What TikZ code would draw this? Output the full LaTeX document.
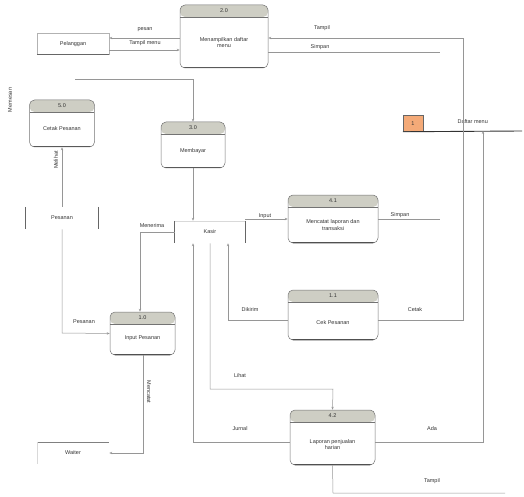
\documentclass[tikz,border=0pt]{standalone}
\usepackage{fontspec}
\setmainfont{Liberation Sans}
\usetikzlibrary{arrows.meta}
\definecolor{headfill}{RGB}{206,206,196}
\definecolor{linegray}{RGB}{150,150,150}
\definecolor{storeorange}{RGB}{244,170,120}
\begin{document}
\begin{tikzpicture}[x=1pt,y=-1pt,line width=0.5pt,
  every node/.style={font=\fontsize{5.5}{6.5}\selectfont,text=black!80},
  proc/.style={draw=black!55,rounded corners=5pt,inner sep=0pt,
    path picture={\fill[headfill] (path picture bounding box.north west)
      rectangle ([yshift=-12pt]path picture bounding box.north east);
      \draw[black!55] ([yshift=-12pt]path picture bounding box.north west)
      -- ([yshift=-12pt]path picture bounding box.north east);
      \draw[black!70,line width=1.4pt] (path picture bounding box.south west)
      -- (path picture bounding box.south east);}},
  ptext/.style={align=center},
  entity/.style={draw=black!30,minimum width=72pt,minimum height=21pt,inner sep=0pt},
  store/.style={minimum height=22pt,inner sep=0pt},
  flow/.style={draw=linegray,-{Stealth[length=3pt,width=2.4pt]}},
  link/.style={draw=linegray},
  lbl/.style={inner sep=1pt}]
 \useasboundingbox (0,0) rectangle (524,497);
 % processes
 \node[proc,minimum width=88pt,minimum height=63pt] (p2) at (224,36.5) {};
 \node at ([yshift=-6pt]p2.north) {2.0};
 \node[ptext] at ([yshift=-6pt]p2.center) {Menampilkan daftar\\menu};
 \node[proc,minimum width=65pt,minimum height=47pt] (p5) at (62,123.5) {};
 \node at ([yshift=-6pt]p5.north) {5.0};
 \node[ptext] at ([yshift=-5pt]p5.center) {Cetak Pesanan};
 \node[proc,minimum width=64pt,minimum height=46pt] (p3) at (193,145) {};
 \node at ([yshift=-6pt]p3.north) {3.0};
 \node[ptext] at ([yshift=-6pt]p3.center) {Membayar};
 \node[proc,minimum width=90pt,minimum height=48pt] (p41) at (333,219) {};
 \node at ([yshift=-6pt]p41.north) {4.1};
 \node[ptext] at ([yshift=-6pt]p41.center) {Mencatat laporan dan\\transaksi};
 \node[proc,minimum width=90pt,minimum height=50pt] (p11) at (333,315) {};
 \node at ([yshift=-6pt]p11.north) {1.1};
 \node[ptext] at ([yshift=-8pt]p11.center) {Cek Pesanan};
 \node[proc,minimum width=65pt,minimum height=43pt] (p1) at (142.5,333.5) {};
 \node at ([yshift=-6pt]p1.north) {1.0};
 \node[ptext] at ([yshift=-5pt]p1.center) {Input Pesanan};
 \node[proc,minimum width=85pt,minimum height=55pt] (p42) at (332.5,437.5) {};
 \node at ([yshift=-6pt]p42.north) {4.2};
 \node[ptext] at ([yshift=-7pt]p42.center) {Laporan penjualan\\harian};
 % entities and stores
 \node[entity] (pel) at (73,44) {Pelanggan};
 \draw[black!60,line width=1pt] (pel.south west) -- (pel.south east);
 \node[entity,draw=none] (wai) at (73,453) {Waiter};
 \draw[black!50] (wai.north west) -- (wai.north east);
 \draw[black!15] (wai.north west) -- (wai.south west);
 \node[store,minimum width=72pt] (pes) at (62,218) {Pesanan};
 \draw[black!60,line width=0.8pt] (pes.north west) -- (pes.south west)
   (pes.north east) -- (pes.south east);
 \node[store,minimum width=70pt] (kas) at (210,232) {Kasir};
 \draw[black!15] (kas.north west) -- (kas.north east);
 \draw[black!60,line width=0.8pt] (kas.north west) -- (kas.south west)
   (kas.north east) -- (kas.south east);
 \node[draw=black!60,fill=storeorange,minimum width=20pt,minimum height=16pt,
   inner sep=0pt] (dm) at (413,123.5) {1};
 \node[anchor=west] (dmtext) at (454,122) {Daftar menu};
 \coordinate (dmend) at (522,131);
 \draw[black!80,line width=0.9pt] (dm.south west) -- (dmend);
 % flows
 \draw[flow] (p2.west |- 0,38) -- (pel.east |- 0,38);
 \draw[flow] (pel.east |- 0,50) -- (p2.west |- 0,50);
 \node[lbl] at (145,30) {pesan};
 \node[lbl] at (145,43) {Tampil menu};
 \draw[flow] (p11.east) ++(0,5) -- (463,320) -- (463,38) -- (p2.east |- 0,38);
 \draw[link] (p2.east |- 0,52) -- (440,52);
 \node[lbl] at (322,28) {Tampil};
 \node[lbl] at (320,47) {Simpan};
 \node[lbl,rotate=90] at (10,100) {Memesan};
 \draw[flow] (75,79) -- (193,79) -- (p3.north);
 \draw[flow] (pes.north) -- (p5.south);
 \node[lbl,rotate=90] at (56,160) {Melihat};
 \draw[flow] (pes.south) -- (62,333) -- (p1.west);
 \node[lbl] at (84,322) {Pesanan};
 \draw[flow] (p3.south) -- (p3.south |- kas.north);
 \draw[flow] (kas.west) -- (140,232) -- (p1.north -| 140,0);
 \node[lbl,fill=white] at (152,226) {Menerima};
 \draw[flow] (kas.east |- p41.west) -- (p41.west);
 \node[lbl] at (265,216) {Input};
 \draw[link] (p41.east) -- (440,219);
 \node[lbl] at (400,215) {Simpan};
 \draw[flow] (p11.west) ++(0,5) -- (228,320) -- (kas.south -| 228,0);
 \node[lbl] at (250,310) {Dikirim};
 \node[lbl] at (415,310) {Cetak};
 \draw[flow] (p1.south -| 143,0) -- (143,453) -- (wai.east);
 \node[lbl,rotate=-90] at (149,392) {Mencatat};
 \draw[flow] (kas.south -| 210,0) -- (210,389) -- (333,389) -- (p42.north);
 \node[lbl] at (240,376) {Lihat};
 \draw[flow] (p42.west |- 0,442) -- (193,442) -- (kas.south -| 193,0);
 \node[lbl] at (240,429) {Jurnal};
 \draw[flow] (p42.east |- 0,442) -- (483,442) -- (483,131);
 \node[lbl] at (432,429) {Ada};
 \draw[link] (p42.south) -- (333,493) -- (505,493);
 \node[lbl] at (432,481) {Tampil};
\end{tikzpicture}
\end{document}
